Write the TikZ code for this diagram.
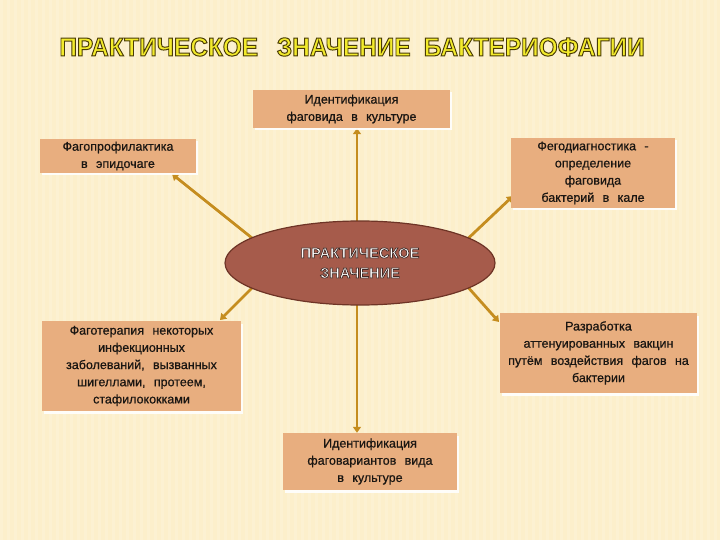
\documentclass[tikz,border=0pt]{standalone}
\usepackage{fontspec}
\setmainfont{Liberation Sans}
\newfontfamily\boxfont{Liberation Sans}[WordSpace=2.4, FakeBold=0.7]
\usetikzlibrary{shadows,arrows.meta,shapes.geometric}
\definecolor{bgc}{HTML}{FCEFCB}
\definecolor{boxc}{HTML}{E8AE7F}
\definecolor{ellc}{HTML}{A65B4B}
\definecolor{elld}{HTML}{6E3426}
\definecolor{arrc}{HTML}{C58D1F}
\definecolor{ttly}{HTML}{F3EB2C}
\definecolor{txtc}{HTML}{1A1612}
% outlined text: fill in current colour, stroke in given rgb
\newcommand\outltext[3]{\special{pdf:literal direct 2 Tr #2 w #3 RG}#1\special{pdf:literal direct 0 Tr}}
\pgfdeclarelayer{back}
\pgfsetlayers{back,main}
\tikzset{
  infobox/.style={fill=boxc, inner sep=0pt, align=center, text=txtc,
    font=\boxfont\fontsize{12.5}{17.2}\selectfont,
    drop shadow={shadow xshift=1.5pt, shadow yshift=-2.5pt, fill=white, opacity=0.9}},
  arr/.style={draw=arrc, line width=2.8pt, -{Triangle[length=6pt,width=8pt]}},
}
\begin{document}
\begin{tikzpicture}[x=1pt,y=-1pt]
\begin{pgfonlayer}{back}
\path[use as bounding box, fill=bgc] (0,0) rectangle (720,540);
\foreach \sx in {0,7,...,714} \fill[white, opacity=0.15] (\sx,0) rectangle ++(3,540);
\end{pgfonlayer}
% title
\node[font=\bfseries\fontsize{26}{30}\selectfont, xscale=0.94, inner sep=0, text=ttly] (title) at (352,47)
  {\outltext{ПРАКТИЧЕСКОЕ\hspace{20pt}ЗНАЧЕНИЕ\hspace{14pt}БАКТЕРИОФАГИИ}{1.0}{0.29 0.235 0.02}};
% boxes
\node[infobox, minimum width=197, minimum height=38] (b1) at (351.5,109)
  {Идентификация\\ фаговида  в  культуре};
\node[infobox, minimum width=156, minimum height=34] (b2) at (118,156)
  {Фагопрофилактика\\ в  эпидочаге};
\node[infobox, minimum width=164, minimum height=70] (b3) at (593,173)
  {Фегодиагностика  -\\ определение\\ фаговида\\ бактерий  в  кале};
\node[infobox, minimum width=199, minimum height=90] (b5) at (141.5,366)
  {Фаготерапия  некоторых\\ инфекционных\\ заболеваний,  вызванных\\ шигеллами,  протеем,\\ стафилококками};
\node[infobox, minimum width=197, minimum height=80] (b6) at (598.5,353)
  {Разработка\\ аттенуированных  вакцин\\ путём  воздействия  фагов  на\\ бактерии};
\node[infobox, minimum width=174, minimum height=57] (b7) at (370,461.5)
  {Идентификация\\ фаговариантов  вида\\ в  культуре};
% centre
\node[ellipse, draw=elld, line width=1.2pt, fill=ellc, minimum width=270, minimum height=84,
  align=center, font=\bfseries\fontsize{14.6}{20}\selectfont, inner sep=0pt, text=white] (e) at (360,263)
  {\outltext{ПРАКТИЧЕСКОЕ}{0.7}{0.25 0.17 0.15}\\ \outltext{ЗНАЧЕНИЕ}{0.7}{0.25 0.17 0.15}};
% arrows
\coordinate (s1) at (357,240);
\coordinate (s2) at (262,246);
\coordinate (s3) at (458,248);
\coordinate (s5) at (262,278);
\coordinate (s6) at (458,276);
\coordinate (s7) at (357,285);
\coordinate (t2) at (172,174);
\coordinate (t3) at (513,196);
\coordinate (t5) at (220,320);
\coordinate (t6) at (499,322);
\begin{pgfonlayer}{back}
\draw[arr] (s1) -- (b1.south -| s1);
\draw[arr] (s2) -- (t2);
\draw[arr] (s3) -- (t3);
\draw[arr] (s5) -- (t5);
\draw[arr] (s6) -- (t6);
\draw[arr] (s7) -- (b7.north -| s7);
\end{pgfonlayer}
\end{tikzpicture}
\end{document}
